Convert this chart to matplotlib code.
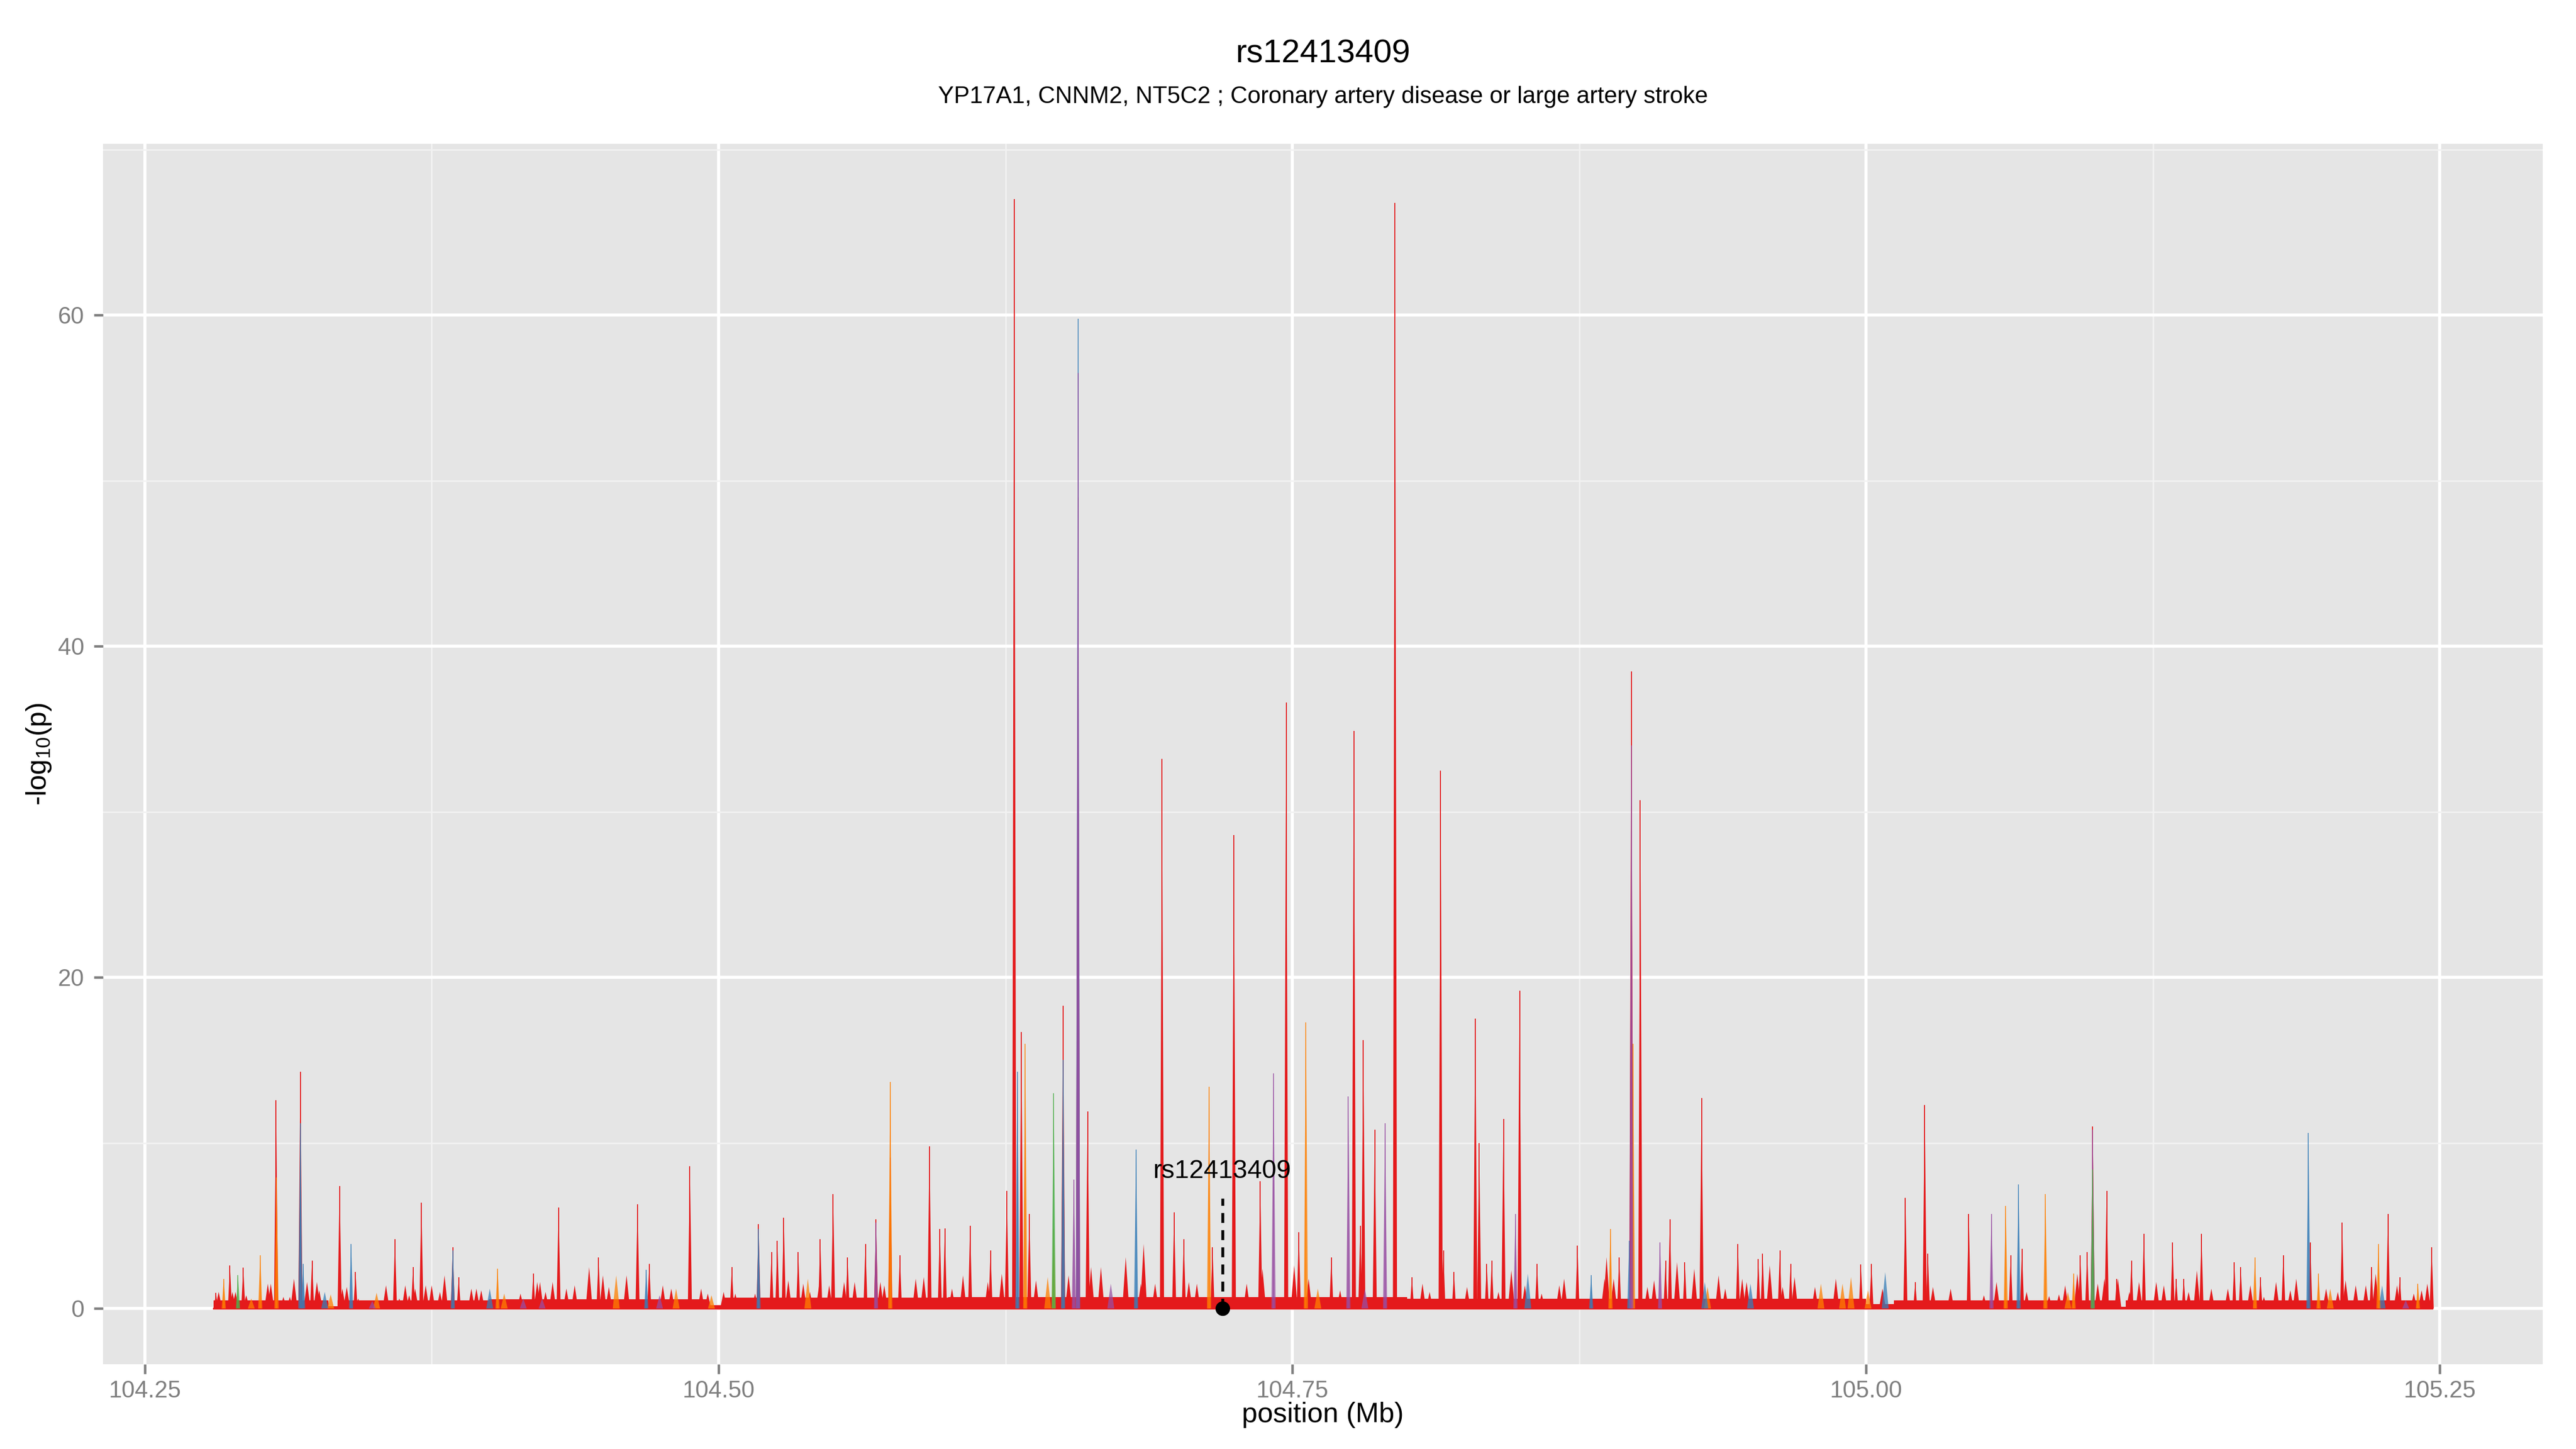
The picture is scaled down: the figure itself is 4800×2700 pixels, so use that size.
import matplotlib.pyplot as plt
from matplotlib.collections import PolyCollection
import numpy as np

plt.rcParams['font.family'] = ['Liberation Sans', 'DejaVu Sans']
plt.rcParams['mathtext.fontset'] = 'custom'
plt.rcParams['mathtext.rm'] = 'Liberation Sans'
plt.rcParams['mathtext.it'] = 'Liberation Sans:italic'

###### text
title = "rs12413409"
subtitle = "YP17A1, CNNM2, NT5C2 ; Coronary artery disease or large artery stroke"
snp_label = "rs12413409"
snp_pos = 104.7195

x_ticks = [104.25, 104.50, 104.75, 105.00, 105.25]
x_ticklabels = ["104.25", "104.50", "104.75", "105.00", "105.25"]
y_ticks = [0, 20, 40, 60]

# LD groups, Set1 palette
ld_colors = {'R': '#E41A1C', 'O': '#FF7F00', 'B': '#377EB8',
             'P': '#984EA3', 'G': '#4DAF4A'}

###### main peaks  (position Mb, -log10 p, LD group)
peak_pos = [104.2810, 104.2844, 104.2871, 104.2906, 104.2929, 104.3003, 104.3072, 104.3074,
            104.3178, 104.3178, 104.3190, 104.3229, 104.3349, 104.3399, 104.3418, 104.3590,
            104.3669, 104.3705, 104.3842, 104.3842, 104.3868, 104.4037, 104.4193, 104.4303,
            104.4477, 104.4647, 104.4685, 104.4698, 104.4875, 104.5058, 104.5174, 104.5174,
            104.5231, 104.5256, 104.5284, 104.5347, 104.5443, 104.5499, 104.5562, 104.5640,
            104.5686, 104.5686, 104.5748, 104.5748, 104.5790, 104.5919, 104.5964, 104.5986,
            104.6096, 104.6185, 104.6256, 104.6288, 104.6302, 104.6319, 104.6336, 104.6354,
            104.6460, 104.6460, 104.6501, 104.6501, 104.6548, 104.6566, 104.6566, 104.6566,
            104.6608, 104.6819, 104.6932, 104.6985, 104.7027, 104.7137, 104.7152, 104.7245,
            104.7360, 104.7418, 104.7473, 104.7528, 104.7559, 104.7670, 104.7744, 104.7768,
            104.7796, 104.7809, 104.7859, 104.7904, 104.7947, 104.8021, 104.8146, 104.8158,
            104.8204, 104.8297, 104.8314, 104.8347, 104.8369, 104.8420, 104.8472, 104.8490,
            104.8566, 104.8742, 104.8802, 104.8886, 104.8924, 104.8968, 104.8977, 104.8977,
            104.8984, 104.9016, 104.9102, 104.9126, 104.9145, 104.9210, 104.9283, 104.9441,
            104.9530, 104.9549, 104.9624, 104.9671, 104.9977, 105.0023, 105.0171, 105.0214,
            105.0255, 105.0269, 105.0447, 105.0546, 105.0608, 105.0630, 105.0664, 105.0679,
            105.0781, 105.0904, 105.0933, 105.0963, 105.0987, 105.0987, 105.0987, 105.1048,
            105.1092, 105.1156, 105.1210, 105.1335, 105.1351, 105.1384, 105.1461, 105.1604,
            105.1632, 105.1694, 105.1718, 105.1818, 105.1927, 105.1935, 105.1971, 105.2074,
            105.2202, 105.2232, 105.2274, 105.2325, 105.2404, 105.2464]
peak_val = [0.94, 1.8, 2.6, 2.0, 2.46, 3.2, 12.6, 7.9,
            14.3, 11.2, 2.7, 2.9, 7.4, 3.9, 2.2, 4.2,
            2.5, 6.4, 3.7, 3.5, 1.9, 2.4, 2.1, 6.1,
            3.1, 6.3, 2.35, 2.7, 8.6, 2.5, 5.1, 4.8,
            3.4, 4.1, 5.5, 3.4, 4.2, 6.9, 3.1, 3.9,
            5.4, 5.2, 9.1, 13.7, 3.2, 9.8, 4.8, 4.85,
            5.0, 3.5, 7.1, 67.0, 14.3, 16.7, 16.0, 5.7,
            4.8, 13.0, 18.3, 15.0, 7.8, 49.0, 59.8, 56.5,
            11.9, 9.6, 33.2, 5.8, 4.2, 13.4, 3.7, 28.6,
            7.7, 14.2, 36.6, 4.6, 17.3, 3.1, 12.8, 34.9,
            5.0, 16.2, 10.8, 11.2, 66.8, 1.9, 32.5, 3.5,
            2.2, 17.5, 10.0, 2.7, 2.9, 11.45, 5.7, 19.2,
            2.7, 3.8, 2.0, 4.8, 3.1, 4.1, 38.5, 34.0,
            16.0, 30.7, 4.0, 2.9, 5.4, 2.8, 12.7, 3.9,
            3.0, 3.3, 3.5, 2.7, 2.65, 2.7, 6.7, 1.6,
            12.3, 3.3, 5.7, 5.7, 6.2, 3.2, 7.5, 3.6,
            6.9, 2.1, 3.2, 3.4, 11.0, 10.8, 8.4, 7.1,
            1.8, 2.9, 4.5, 4.0, 1.8, 1.8, 4.5, 2.8,
            2.5, 3.1, 1.9, 3.2, 10.6, 4.0, 2.1, 5.2,
            2.5, 3.9, 5.7, 1.9, 1.5, 3.7]
peak_col = ['R', 'O', 'R', 'G', 'R', 'O', 'R', 'O',
            'R', 'B', 'B', 'R', 'R', 'B', 'R', 'R',
            'R', 'R', 'R', 'B', 'R', 'O', 'R', 'R',
            'R', 'R', 'B', 'R', 'R', 'R', 'R', 'B',
            'R', 'R', 'R', 'R', 'R', 'R', 'R', 'R',
            'R', 'P', 'R', 'O', 'R', 'R', 'R', 'R',
            'R', 'R', 'R', 'R', 'B', 'R', 'O', 'R',
            'O', 'G', 'R', 'B', 'P', 'R', 'B', 'P',
            'R', 'B', 'R', 'R', 'R', 'O', 'R', 'R',
            'R', 'P', 'R', 'R', 'O', 'R', 'P', 'R',
            'R', 'R', 'R', 'P', 'R', 'R', 'R', 'R',
            'R', 'R', 'R', 'R', 'R', 'R', 'P', 'R',
            'R', 'R', 'B', 'O', 'R', 'B', 'R', 'P',
            'O', 'R', 'P', 'R', 'R', 'R', 'R', 'R',
            'R', 'R', 'R', 'R', 'R', 'R', 'R', 'R',
            'R', 'R', 'R', 'P', 'O', 'R', 'B', 'R',
            'O', 'O', 'R', 'R', 'R', 'P', 'G', 'R',
            'R', 'R', 'R', 'R', 'R', 'R', 'R', 'R',
            'R', 'O', 'R', 'R', 'B', 'R', 'O', 'R',
            'R', 'O', 'R', 'R', 'O', 'R']

###### small background spikes
small_pos = [104.2822, 104.2882, 104.2895, 104.2942, 104.2964, 104.3036, 104.3049, 104.3104,
             104.3132, 104.3150, 104.3207, 104.3250, 104.3260, 104.3284, 104.3310, 104.3361,
             104.3380, 104.3430, 104.3491, 104.3510, 104.3551, 104.3609, 104.3635, 104.3652,
             104.3678, 104.3724, 104.3750, 104.3786, 104.3806, 104.3923, 104.3945, 104.3966,
             104.4003, 104.4066, 104.4137, 104.4149, 104.4210, 104.4222, 104.4231, 104.4246,
             104.4277, 104.4337, 104.4373, 104.4436, 104.4496, 104.4522, 104.4554, 104.4599,
             104.4743, 104.4757, 104.4794, 104.4815, 104.4924, 104.4953, 104.4969, 104.5022,
             104.5073, 104.5159, 104.5304, 104.5369, 104.5398, 104.5389, 104.5439, 104.5482,
             104.5547, 104.5593, 104.5705, 104.5722, 104.5859, 104.5894, 104.6017, 104.6065,
             104.6173, 104.6234, 104.6383, 104.6434, 104.6525, 104.6623, 104.6666, 104.6709,
             104.6774, 104.6840, 104.6852, 104.6902, 104.7049, 104.7084, 104.7301, 104.7370,
             104.7508, 104.7571, 104.7611, 104.7708, 104.7816, 104.8067, 104.8098, 104.8261,
             104.8398, 104.8454, 104.8513, 104.8526, 104.8586, 104.8663, 104.8684, 104.8860,
             104.8869, 104.8900, 104.9047, 104.9076, 104.9176, 104.9251, 104.9297, 104.9309,
             104.9357, 104.9386, 104.9460, 104.9479, 104.9496, 104.9580, 104.9636, 104.9688,
             104.9777, 104.9803, 104.9868, 104.9897, 104.9934, 105.0008, 105.0071, 105.0083,
             105.0291, 105.0368, 105.0513, 105.0568, 105.0699, 105.0797, 105.0840, 105.0867,
             105.0879, 105.0920, 105.1009, 105.1038, 105.1097, 105.1147, 105.1189, 105.1264,
             105.1297, 105.1405, 105.1441, 105.1504, 105.1576, 105.1674, 105.1733, 105.1786,
             105.1848, 105.1874, 105.2004, 105.2022, 105.2055, 105.2089, 105.2133, 105.2177,
             105.2220, 105.2248, 105.2313, 105.2351, 105.2386, 105.2420, 105.2445]
small_val = [1.0, 1.0, 1.0, 0.8, 0.6, 1.5, 1.5, 0.7,
             0.7, 1.8, 1.6, 1.6, 1.1, 1.0, 0.85, 1.2,
             1.3, 0.6, 0.45, 0.95, 1.4, 0.6, 1.4, 0.8,
             1.2, 1.4, 1.4, 1.0, 2.0, 1.2, 1.2, 1.1,
             1.2, 0.9, 0.9, 0.6, 1.6, 1.6, 0.6, 1.0,
             1.6, 1.2, 1.4, 2.5, 2.0, 1.3, 2.0, 2.0,
             0.8, 1.4, 1.2, 1.2, 1.2, 0.9, 0.8, 1.0,
             0.9, 0.9, 1.7, 1.5, 1.0, 1.8, 1.5, 1.4,
             1.6, 1.6, 1.6, 1.4, 1.8, 1.9, 1.2, 2.0,
             1.6, 2.1, 1.7, 1.9, 2.0, 2.5, 2.5, 1.5,
             3.1, 1.5, 3.9, 1.5, 1.6, 1.5, 1.5, 2.4,
             2.6, 1.8, 1.2, 1.1, 1.2, 1.5, 1.0, 1.3,
             1.0, 2.3, 1.4, 2.1, 0.9, 1.4, 1.8, 1.8,
             3.1, 1.8, 1.3, 1.7, 2.8, 2.4, 1.6, 1.3,
             2.0, 1.2, 1.8, 1.6, 1.5, 2.6, 1.3, 1.9,
             1.3, 1.5, 1.8, 1.5, 1.9, 1.1, 1.2, 2.2,
             1.3, 1.2, 0.8, 1.6, 1.0, 0.75, 0.85, 1.4,
             1.0, 2.1, 1.5, 1.8, 1.8, 1.0, 1.6, 1.6,
             1.4, 1.0, 2.3, 1.2, 1.2, 1.4, 0.7, 1.6,
             1.1, 1.8, 1.2, 1.2, 1.0, 1.7, 1.4, 1.4,
             2.1, 1.4, 1.4, 0.5, 0.9, 1.1, 1.5]
small_col = ['R', 'R', 'R', 'R', 'O', 'R', 'R', 'R',
             'R', 'R', 'R', 'R', 'R', 'B', 'O', 'R',
             'R', 'R', 'P', 'O', 'R', 'R', 'R', 'R',
             'R', 'R', 'R', 'R', 'R', 'R', 'R', 'R',
             'B', 'O', 'R', 'P', 'R', 'R', 'P', 'R',
             'R', 'R', 'R', 'R', 'R', 'R', 'O', 'R',
             'P', 'R', 'R', 'O', 'R', 'R', 'O', 'R',
             'R', 'R', 'R', 'R', 'R', 'O', 'R', 'R',
             'R', 'R', 'R', 'R', 'R', 'R', 'R', 'R',
             'R', 'R', 'R', 'O', 'R', 'R', 'R', 'P',
             'R', 'R', 'R', 'R', 'R', 'R', 'R', 'R',
             'R', 'R', 'O', 'R', 'P', 'R', 'R', 'R',
             'R', 'R', 'R', 'B', 'R', 'R', 'R', 'R',
             'R', 'R', 'R', 'R', 'R', 'R', 'B', 'O',
             'R', 'R', 'R', 'R', 'B', 'R', 'R', 'R',
             'R', 'O', 'R', 'O', 'O', 'O', 'R', 'B',
             'R', 'R', 'R', 'R', 'R', 'R', 'R', 'R',
             'O', 'R', 'R', 'R', 'R', 'R', 'R', 'R',
             'R', 'R', 'R', 'R', 'R', 'R', 'R', 'R',
             'R', 'R', 'R', 'O', 'R', 'R', 'R', 'R',
             'R', 'B', 'R', 'P', 'R', 'R', 'R']

###### low red band under everything (start, end, level)
band_start = [104.2800, 104.3300, 104.3340, 104.4000, 104.4950, 104.5020, 104.6000,
              104.8000, 105.0000, 105.0120, 105.1100, 105.1130]
band_end = [104.3300, 104.3340, 104.4000, 104.4950, 104.5020, 104.6000, 104.8000,
            105.0000, 105.0120, 105.1100, 105.1130, 105.2465]
band_level = [0.5, 0.15, 0.5, 0.55, 0.2, 0.65, 0.7, 0.6, 0.25, 0.5, 0.1, 0.5]


def draw_spikes(ax, pos, val, col, hw, z, lines=False):
    for c in ld_colors:
        idx = [i for i in range(len(pos)) if col[i] == c]
        if not idx:
            continue
        zz = z if c == 'R' else z + 1
        a = 1.0 if c == 'R' else 0.75
        verts = [[(pos[i] - hw, 0), (pos[i], val[i]), (pos[i] + hw, 0)] for i in idx]
        pc = PolyCollection(verts, facecolors=ld_colors[c], edgecolors='none',
                            alpha=a, zorder=zz)
        ax.add_collection(pc)
        if lines:
            ax.vlines([pos[i] for i in idx], 0, [val[i] for i in idx],
                      colors=ld_colors[c], lw=0.45, alpha=a, zorder=zz)


fig = plt.figure(figsize=(16, 9), dpi=300)
ax = fig.add_axes([0.0399, 0.0587, 0.9472, 0.8420])
ax.set_facecolor('#E5E5E5')
for s in ax.spines.values():
    s.set_visible(False)

# band
for s0, s1, lv in zip(band_start, band_end, band_level):
    ax.fill_between([s0, s1], 0, lv, color=ld_colors['R'], lw=0, zorder=2)
ax.plot([band_start[0], band_end[-1]], [0, 0], color=ld_colors['R'], lw=0.8, zorder=2)

draw_spikes(ax, small_pos, small_val, small_col, 0.0015, 2)
draw_spikes(ax, peak_pos, peak_val, peak_col, 0.0009, 2.2, lines=True)

# labelled SNP
ax.plot([snp_pos, snp_pos], [0, 6.65], color='black', lw=1.3, dashes=(3.4, 2.5), zorder=6)
ax.plot(snp_pos, 0, 'o', color='black', ms=5.5, zorder=7)
ax.text(snp_pos, 8.3, snp_label, ha='center', va='center', fontsize=11.7, zorder=7)

ax.set_xlim(104.2317, 105.2948)
ax.set_ylim(-3.35, 70.35)
ax.set_xticks(x_ticks)
ax.set_xticklabels(x_ticklabels)
ax.set_xticks(np.array(x_ticks[:-1]) + 0.125, minor=True)
ax.set_yticks(y_ticks)
ax.set_yticks([10, 30, 50, 70], minor=True)
ax.tick_params(which='major', length=4.2, width=1.1, color='#7F7F7F',
               labelcolor='#7F7F7F', labelsize=10.6)
ax.tick_params(axis='x', which='major', pad=3)
ax.tick_params(axis='y', which='major', pad=4)
ax.tick_params(which='minor', length=0)
ax.set_axisbelow(True)
ax.grid(which='major', color='white', lw=1.35)
ax.grid(which='minor', color='#F2F2F2', lw=0.65)

fig.text(0.5136, 0.9626, title, ha='center', va='center', fontsize=14.8)
fig.text(0.5136, 0.9333, subtitle, ha='center', va='center', fontsize=10.6)
fig.text(0.5136, 0.0237, "position (Mb)", ha='center', va='center', fontsize=12.5)
fig.text(0.0152, 0.4796, "-log$_{10}$(p)", rotation=90, ha='center', va='center', fontsize=12.5)

fig.savefig('out.png', dpi=300)
